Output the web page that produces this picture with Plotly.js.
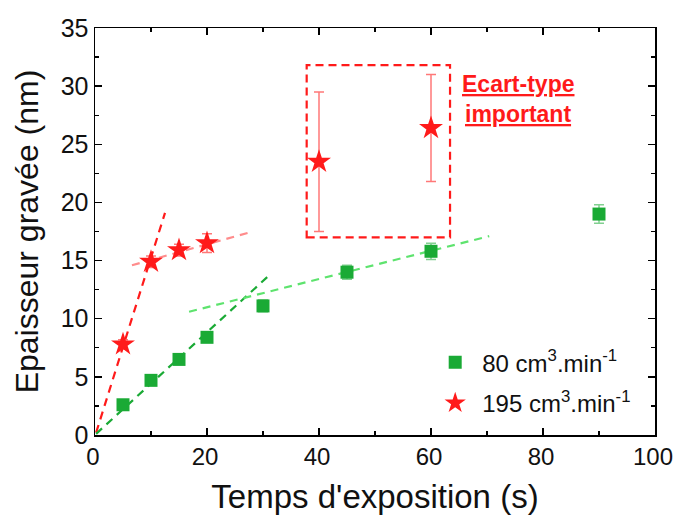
<!DOCTYPE html>
<html><head><meta charset="utf-8">
<script src="https://cdn.plot.ly/plotly-3.0.1.min.js"></script>
<style>body{margin:0;background:#fff}#c{width:673px;height:520px}</style>
</head><body><div id="c"></div>
<script>
// Series 80 cm3/min (green squares)
const xGreen = [5, 10, 15, 20, 30, 45, 60, 90];
const yGreen = [2.6, 4.7, 6.5, 8.4, 11.1, 14.0, 15.8, 19.0];
const eGreen = [0.15, 0.2, 0.2, 0.25, 0.5, 0.6, 0.7, 0.8];
// Series 195 cm3/min (red stars)
const xRed = [5, 10, 15, 20, 40, 60];
const yRed = [7.8, 14.9, 15.9, 16.5, 23.5, 26.4];
const eRed = [0.4, 0.5, 0.5, 0.8, 6.0, 4.6];
// Trend lines (dashed)
const redSteepX = [0.2, 12.5], redSteepY = [0.2, 19.1];
const redFlatX = [6.6, 28.2], redFlatY = [14.6, 17.5];
const greenSteepX = [0.2, 30.8], greenSteepY = [0.1, 13.6];
const greenFlatX = [16.8, 70.4], greenFlatY = [10.6, 17.1];
// Highlight box
const boxX = [37.8, 63.4], boxY = [17.0, 31.8];

const GREEN = '#1aaa35', RED = '#ff1a1a';
const font = 'Arial, "Liberation Sans", sans-serif';

const traces = [
  {x: redSteepX, y: redSteepY, mode: 'lines', line: {color: RED, width: 2.2, dash: '8px,6px'}, showlegend: false, hoverinfo: 'skip'},
  {x: redFlatX, y: redFlatY, mode: 'lines', line: {color: '#ff8c8c', width: 2.2, dash: '8px,6px'}, showlegend: false, hoverinfo: 'skip'},
  {x: greenSteepX, y: greenSteepY, mode: 'lines', line: {color: GREEN, width: 2.2, dash: '8px,6px'}, showlegend: false, hoverinfo: 'skip'},
  {x: greenFlatX, y: greenFlatY, mode: 'lines', line: {color: '#5ee36e', width: 2.2, dash: '8px,6px'}, showlegend: false, hoverinfo: 'skip'},
  {x: xGreen, y: yGreen, mode: 'markers', name: '80 cm<sup>3</sup>.min<sup>-1</sup>', legend: 'legend',
   marker: {symbol: 'square', size: 13, color: GREEN},
   error_y: {type: 'data', array: eGreen, visible: true, color: 'rgba(26,170,53,0.55)', thickness: 1.5, width: 5}},
  {x: xRed, y: yRed, mode: 'markers', name: '195 cm<sup>3</sup>.min<sup>-1</sup>', legend: 'legend2',
   marker: {symbol: 'star', size: 18, color: RED},
   error_y: {type: 'data', array: eRed, visible: true, color: 'rgba(255,30,30,0.6)', thickness: 1.5, width: 5}}
];

const axisCommon = {
  showgrid: false, zeroline: false, showline: true, linecolor: '#000', linewidth: 1.5,
  mirror: 'allticks', ticks: 'inside', ticklen: 7, tickwidth: 1.5, tickcolor: '#000',
  ticklabeloverflow: 'allow'
};

const legendCommon = {xanchor: 'left', yanchor: 'middle', bgcolor: 'rgba(0,0,0,0)',
  font: {family: font, size: 24, color: '#111'}, itemwidth: 44};

const layout = {
  width: 673, height: 520,
  margin: {l: 95, r: 18, t: 28, b: 85},
  paper_bgcolor: '#fff', plot_bgcolor: '#fff',
  font: {family: font},
  xaxis: Object.assign({}, axisCommon, {
    range: [0, 100], dtick: 20, ticklabelshift: -2,
    tickfont: {family: font, size: 24, color: '#111'},
    minor: {dtick: 10, ticks: 'inside', ticklen: 4, tickwidth: 1.2, tickcolor: '#000'},
    title: {text: "Temps d'exposition (s)", font: {family: font, size: 33, color: '#111'}, standoff: 15}
  }),
  yaxis: Object.assign({}, axisCommon, {
    range: [0, 35], dtick: 5,
    tickfont: {family: font, size: 25, color: '#111'},
    minor: {dtick: 2.5, ticks: 'inside', ticklen: 4, tickwidth: 1.2, tickcolor: '#000'},
    title: {text: 'Epaisseur gravée (nm)', font: {family: font, size: 32, color: '#111'}, standoff: 12}
  }),
  legend: Object.assign({}, legendCommon, {x: 0.595, y: 0.178}),
  legend2: Object.assign({}, legendCommon, {x: 0.595, y: 0.078}),
  shapes: [
    {type: 'rect', xref: 'x', yref: 'y', x0: boxX[0], x1: boxX[1], y0: boxY[0], y1: boxY[1],
     line: {color: RED, width: 2.2, dash: '8px,5px'}}
  ],
  annotations: [
    {xref: 'x', yref: 'y', x: 75.6, y: 30.2, text: '<b><u>Ecart-type</u></b>', showarrow: false,
     font: {family: font, size: 23, color: RED}},
    {xref: 'x', yref: 'y', x: 75.6, y: 27.6, text: '<b><u>important</u></b>', showarrow: false,
     font: {family: font, size: 23, color: RED}}
  ]
};

Plotly.newPlot('c', traces, layout, {displayModeBar: false, staticPlot: true});
</script></body></html>
